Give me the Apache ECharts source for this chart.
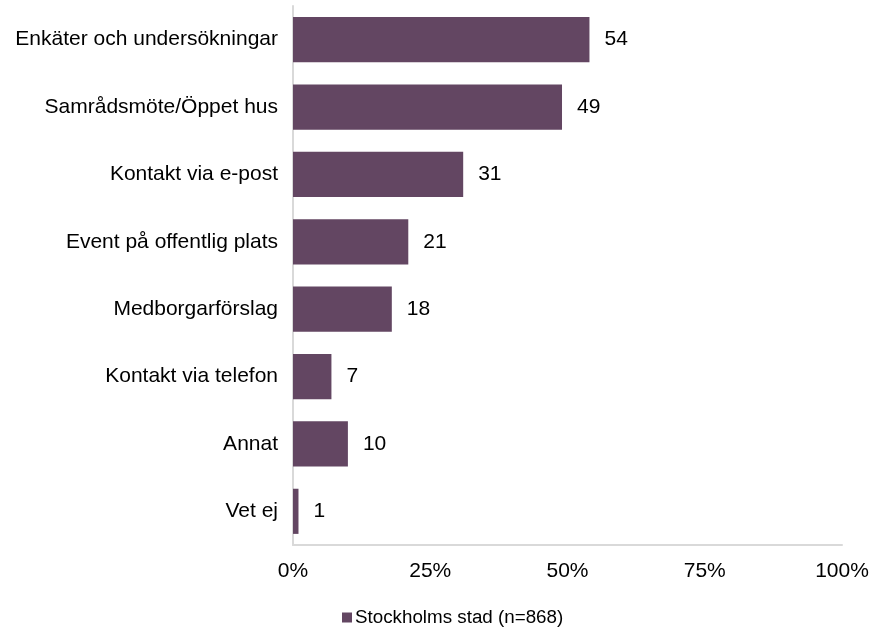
<!DOCTYPE html>
<html>
<head>
<meta charset="utf-8">
<script src="https://cdn.jsdelivr.net/npm/echarts@6/dist/echarts.min.js"></script>
<style>html,body{margin:0;padding:0;background:#fff}#c{width:874px;height:628px}</style>
</head>
<body>
<div id="c"></div>
<script>
const categories = ["Enkäter och undersökningar","Samrådsmöte/Öppet hus","Kontakt via e-post","Event på offentlig plats","Medborgarförslag","Kontakt via telefon","Annat","Vet ej"];
const values = [54,49,31,21,18,7,10,1];
const seriesName = "Stockholms stad (n=868)";
const xTicks = [0,25,50,75,100];

const chart = echarts.init(document.getElementById('c'));
const font = '"Liberation Sans", Arial, sans-serif';
chart.setOption({
  animation:false,
  grid:{left:293,right:32,top:6,bottom:83,containLabel:false},
  legend:{top:608,left:342,padding:0,itemWidth:10,itemHeight:10,itemGap:5,icon:'rect',
    textStyle:{fontFamily:font,fontSize:18.8,color:'#000',padding:[0,0,0,-2]},data:[seriesName]},
  xAxis:{type:'value',min:0,max:100,interval:25,
    axisLine:{show:true,lineStyle:{color:'#d9d9d9',width:2}},
    axisTick:{show:false},splitLine:{show:false},
    axisLabel:{formatter:v=>v+'%',fontFamily:font,fontSize:21,color:'#000',margin:16}},
  yAxis:{type:'category',inverse:true,data:categories,
    axisLine:{show:true,lineStyle:{color:'#d9d9d9',width:2}},
    axisTick:{show:false},
    axisLabel:{fontFamily:font,fontSize:21,color:'#000',margin:15}},
  series:[{name:seriesName,type:'bar',data:values,barCategoryGap:'33%',
    itemStyle:{color:'#634662'},
    label:{show:true,position:'right',distance:15,fontFamily:font,fontSize:21,color:'#000'}}]
});
</script>
</body>
</html>
